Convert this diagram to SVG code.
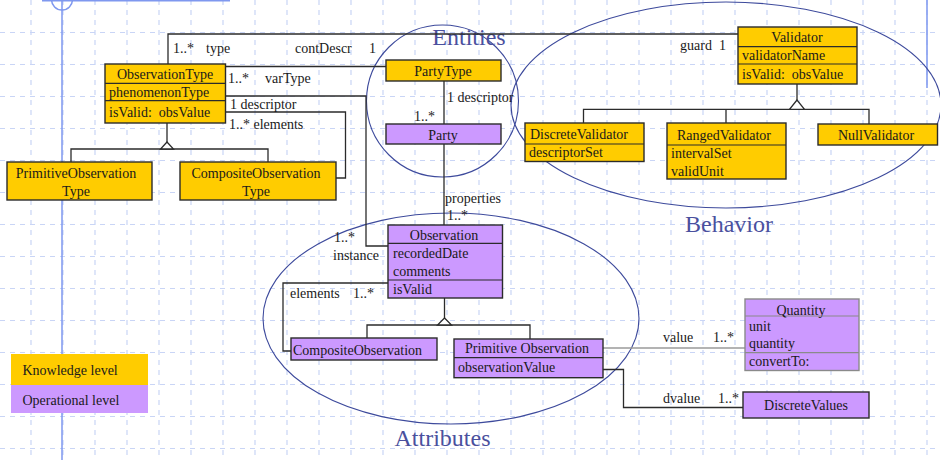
<svg xmlns="http://www.w3.org/2000/svg" width="940" height="460" viewBox="0 0 940 460">
  <style>
    .grid { fill: none; stroke: #c9d5f6; stroke-width: 1.2; stroke-dasharray: 5 5; }
    .guide { fill: none; stroke: #7f98ef; stroke-width: 1.5; }
    .know { fill: #ffcc00; stroke: #2b2b2b; stroke-width: 1.4; }
    .oper { fill: #cc99ff; stroke: #2b2b2b; stroke-width: 1.4; }
    .oper-g { fill: #cc99ff; stroke: #8a8a8a; stroke-width: 1.4; }
    .div { stroke: #2b2b2b; stroke-width: 1.2; }
    .div-g { stroke: #8a8a8a; stroke-width: 1.2; }
    .line { fill: none; stroke: #2b2b2b; stroke-width: 1.3; }
    .line-g { fill: none; stroke: #9a9a9a; stroke-width: 1.5; }
    .tri { fill: #ffffff; stroke: #2b2b2b; stroke-width: 1.3; }
    .zone { fill: none; stroke: #3d4a9c; stroke-width: 1.1; }
    text { font-family: "Liberation Serif", "Times New Roman", serif; font-size: 14px; fill: #1a1a1a; }
    .c { text-anchor: middle; }
    .zone-label { font-size: 24px; fill: #4a509e; text-anchor: middle; }
  </style>

  <rect x="0" y="0" width="940" height="460" fill="#ffffff"/>

  <!-- background grid -->
  <path class="grid" d="M31 0V460M63 0V460M95 0V460M127 0V460M159 0V460M191 0V460M223 0V460M255 0V460M287 0V460M319 0V460M351 0V460M383 0V460M415 0V460M447 0V460M479 0V460M511 0V460M543 0V460M575 0V460M607 0V460M639 0V460M671 0V460M703 0V460M735 0V460M767 0V460M799 0V460M831 0V460M863 0V460M895 0V460M927 0V460"/>
  <path class="grid" d="M0 32.5H940M0 64.5H940M0 96.5H940M0 128.5H940M0 160.5H940M0 192.5H940M0 224.5H940M0 256.5H940M0 288.5H940M0 320.5H940M0 352.5H940M0 384.5H940M0 416.5H940M0 448.5H940"/>

  <!-- page guides -->
  <g id="guides">
    <path class="guide" d="M62 0V460M42 0.8H230M927 0V88"/>
    <circle class="guide" cx="62" cy="-0.5" r="10.5"/>
  </g>

  <!-- grouping regions -->
  <g id="regions">
    <circle class="zone" cx="442.5" cy="101" r="76"/>
    <ellipse class="zone" cx="726" cy="105" rx="215" ry="103"/>
    <ellipse class="zone" cx="451" cy="318.5" rx="188" ry="105.5"/>
    <text class="zone-label" x="469" y="45">Entities</text>
    <text class="zone-label" x="729" y="232">Behavior</text>
    <text class="zone-label" x="442.5" y="446">Attributes</text>
  </g>

  <!-- connectors -->
  <g id="connectors">
    <path class="line" d="M168 64V34H738"/>
    <path class="line" d="M225.5 66.5H386"/>
    <path class="line" d="M225.5 96H366V246H388"/>
    <path class="line" d="M225.5 112H345.5V178H336"/>
    <path class="line" d="M167 123V142M71 162V149H268V162"/>
    <polygon class="tri" points="167,142 160.5,149 173.5,149"/>
    <path class="line" d="M444 81V124M444 144V225"/>
    <path class="line" d="M797 84V100M583.5 123V109.3H869V124M726 109.3V123"/>
    <polygon class="tri" points="797,100 789.5,109.3 804.5,109.3"/>
    <path class="line" d="M444.5 298V318M367 338V325H530V339"/>
    <polygon class="tri" points="444.5,318 437.5,325 451.5,325"/>
    <path class="line" d="M388 283H283V351H291"/>
    <path class="line-g" d="M603 348H745"/>
    <path class="line" d="M603 369.5H623.5V407.5H743"/>

    <text x="173" y="53">1..*</text>
    <text x="206" y="53">type</text>
    <text x="295" y="53">contDescr</text>
    <text x="369" y="53">1</text>
    <text x="680" y="50">guard</text>
    <text x="719" y="50">1</text>
    <text x="228" y="83">1..*</text>
    <text x="265" y="83">varType</text>
    <text x="230" y="109">1 descriptor</text>
    <text x="229" y="129">1..* elements</text>
    <text x="447" y="102">1 descriptor</text>
    <text x="414" y="121">1..*</text>
    <text x="445" y="203">properties</text>
    <text x="447" y="220">1..*</text>
    <text x="334" y="242">1..*</text>
    <text x="333" y="260">instance</text>
    <text x="290" y="298">elements</text>
    <text x="353" y="298">1..*</text>
    <text x="663" y="342">value</text>
    <text x="713" y="342">1..*</text>
    <text x="663" y="403">dvalue</text>
    <text x="718" y="403">1..*</text>
  </g>

  <!-- knowledge level classes -->
  <g id="ObservationType">
    <rect class="know" x="105" y="64" width="120.5" height="59"/>
    <path class="div" d="M105 83.3H225.5M105 100.7H225.5"/>
    <text class="c" x="165" y="79">ObservationType</text>
    <text x="109" y="97">phenomenonType</text>
    <text x="109" y="117" xml:space="preserve">isValid:  obsValue</text>
  </g>
  <g id="PrimitiveObservationType">
    <rect class="know" x="7" y="162" width="145" height="38"/>
    <text class="c" x="76" y="178">PrimitiveObservation</text>
    <text class="c" x="76" y="196">Type</text>
  </g>
  <g id="CompositeObservationType">
    <rect class="know" x="180" y="162" width="156" height="38"/>
    <text class="c" x="256" y="178">CompositeObservation</text>
    <text class="c" x="256" y="196">Type</text>
  </g>
  <g id="PartyType">
    <rect class="know" x="386" y="60" width="115" height="21"/>
    <text class="c" x="443" y="76">PartyType</text>
  </g>
  <g id="Validator">
    <rect class="know" x="738" y="27" width="119" height="57"/>
    <path class="div" d="M738 46.7H857M738 64H857"/>
    <text class="c" x="797" y="42">Validator</text>
    <text x="742" y="60">validatorName</text>
    <text x="742" y="79" xml:space="preserve">isValid:  obsValue</text>
  </g>
  <g id="DiscreteValidator">
    <rect class="know" x="525" y="123" width="119" height="38.5"/>
    <path class="div" d="M525 144H644"/>
    <text x="530" y="139">DiscreteValidator</text>
    <text x="529" y="157">descriptorSet</text>
  </g>
  <g id="RangedValidator">
    <rect class="know" x="667" y="123" width="119" height="56"/>
    <path class="div" d="M667 145H786"/>
    <text class="c" x="724" y="140">RangedValidator</text>
    <text x="671" y="158">intervalSet</text>
    <text x="671" y="176">validUnit</text>
  </g>
  <g id="NullValidator">
    <rect class="know" x="818" y="124" width="119.5" height="21"/>
    <text class="c" x="876" y="140">NullValidator</text>
  </g>

  <!-- operational level classes -->
  <g id="Party">
    <rect class="oper" x="386" y="124" width="115" height="20"/>
    <text class="c" x="443" y="140">Party</text>
  </g>
  <g id="Observation">
    <rect class="oper" x="388" y="225" width="114.5" height="73"/>
    <path class="div" d="M388 243.3H502.5M388 280H502.5"/>
    <text class="c" x="444" y="240">Observation</text>
    <text x="393" y="258">recordedDate</text>
    <text x="393" y="276">comments</text>
    <text x="393" y="294">isValid</text>
  </g>
  <g id="CompositeObservation">
    <rect class="oper" x="291" y="338" width="146" height="22"/>
    <text x="293" y="355">CompositeObservation</text>
  </g>
  <g id="PrimitiveObservation">
    <rect class="oper" x="454" y="339" width="149" height="38.7"/>
    <path class="div" d="M454 357.7H603"/>
    <text class="c" x="527" y="353">Primitive Observation</text>
    <text x="458" y="372">observationValue</text>
  </g>
  <g id="Quantity">
    <rect class="oper-g" x="745" y="299" width="114" height="71.5"/>
    <path class="div-g" d="M745 316H859M745 352.7H859"/>
    <text class="c" x="801" y="315">Quantity</text>
    <text x="749" y="331">unit</text>
    <text x="749" y="348">quantity</text>
    <text x="749" y="366">convertTo:</text>
  </g>
  <g id="DiscreteValues">
    <rect class="oper" x="743" y="392" width="126" height="26"/>
    <text class="c" x="806" y="410">DiscreteValues</text>
  </g>

  <!-- legend -->
  <g id="legend">
    <rect x="11" y="354" width="137" height="31" fill="#ffcc00"/>
    <rect x="11" y="385" width="137" height="28" fill="#cc99ff"/>
    <text x="22.5" y="375">Knowledge level</text>
    <text x="22.5" y="405">Operational level</text>
  </g>
</svg>
